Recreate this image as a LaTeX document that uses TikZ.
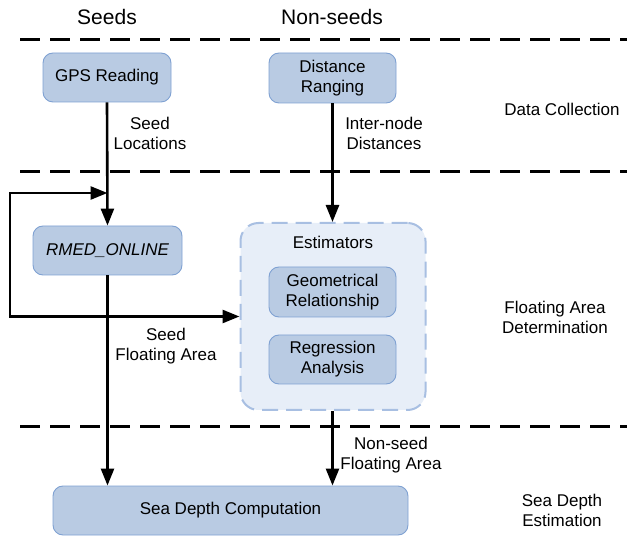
\documentclass[tikz,border=0pt]{standalone}
\usepackage{fontspec}
\setmainfont{Liberation Sans}
\usetikzlibrary{arrows.meta}
\definecolor{boxfill}{HTML}{B9CBE3}
\definecolor{boxline}{HTML}{7FA1D2}
\definecolor{estfill}{HTML}{E7EEF8}
\definecolor{estline}{HTML}{A8BFE2}
\tikzset{
  pbox/.style={draw=boxline, fill=boxfill, line width=0.9pt, rounded corners=10pt, inner sep=0pt, align=center, font=\fontsize{17}{20}\selectfont},
  ebox/.style={draw=estline, fill=estfill, line width=2pt, dash pattern=on 16pt off 8pt, rounded corners=18pt, inner sep=0pt},
  lbl/.style={align=center, font=\fontsize{17}{20}\selectfont, inner sep=0pt},
  hdr/.style={font=\fontsize{21}{24}\selectfont, inner sep=0pt},
  sep/.style={line width=3pt, dash pattern=on 20pt off 10pt},
  arr/.style={line width=2.6pt, -{Triangle[length=17pt,width=13pt]}},
  ln/.style={line width=2.6pt}
}
\begin{document}
\begin{tikzpicture}[x=1pt,y=-1pt]
\useasboundingbox (0,0) rectangle (627,537);
% headers
\node[hdr] (hs) at (107,17) {Seeds};
\node[hdr] (hn) at (332,17) {Non-seeds};
% separators
\coordinate (s1a) at (20,40); \coordinate (s1b) at (627,40);
\coordinate (s2a) at (20,172); \coordinate (s2b) at (627,172);
\coordinate (s3a) at (20,427); \coordinate (s3b) at (627,427);
\draw[sep] (s1a) -- (s1b);
\draw[sep] (s2a) -- (s2b);
\draw[sep] (s3a) -- (s3b);
% boxes
\node[pbox, minimum width=128pt, minimum height=49pt] (gps) at (107,77.5) {GPS Reading};
\node[pbox, minimum width=127pt, minimum height=50pt] (dist) at (332.5,78) {Distance\\Ranging};
\node[pbox, minimum width=149pt, minimum height=49pt] (rmed) at (107.5,250.5) {\itshape RMED\_ONLINE};
\node[ebox, minimum width=185pt, minimum height=187pt] (est) at (333,316.5) {};
\node[lbl] (estt) at (333,242) {Estimators};
\node[pbox, minimum width=127pt, minimum height=50pt] (geo) at (332.5,292) {Geometrical\\Relationship};
\node[pbox, minimum width=127pt, minimum height=49pt] (reg) at (332.5,359.5) {Regression\\Analysis};
\node[pbox, minimum width=355pt, minimum height=49pt] (sea) at (230.5,510.5) {Sea Depth Computation};
% connector labels
\node[lbl] (l1) at (150,133) {Seed\\Locations};
\node[lbl] (l2) at (384,133) {Inter-node\\Distances};
\node[lbl] (l3) at (166,346) {Seed\\Floating Area};
\node[lbl] (l4) at (391,455) {Non-seed\\Floating Area};
% stage labels
\node[lbl] (r1) at (562,109) {Data Collection};
\node[lbl] (r2) at (555,317) {Floating Area\\Determination};
\node[lbl] (r3) at (562,510) {Sea Depth\\Estimation};
% connectors
\draw[arr] (gps.south) -- (rmed.north);
\draw[arr] (dist.south) -- (dist.south |- est.north);
\draw[arr] (rmed.south) -- (rmed.south |- sea.north);
\draw[arr] (est.south -| dist.south) -- (dist.south |- sea.north);
\coordinate (lc) at (10,316.5);
\coordinate (jt) at (107.5,193);
\draw[arr] (est.west -| rmed.south) -- (lc) |- (jt);
\draw[arr] (lc) -- (est.west);
\end{tikzpicture}
\end{document}
